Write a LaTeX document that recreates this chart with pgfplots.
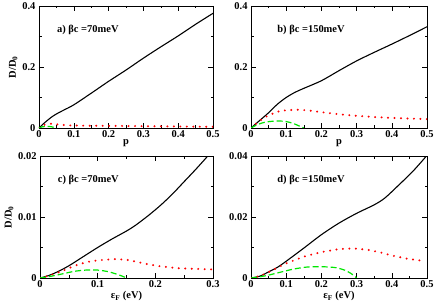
\documentclass[border=0pt]{standalone}
\usepackage{pgfplots}
\pgfplotsset{compat=1.18}
\usepackage{fontspec}
\setmainfont{Liberation Serif}
\definecolor{mygreen}{RGB}{0,230,0}
\pgfplotsset{
  every axis/.style={scale only axis, height=122bp,
    tick align=inside, xtick pos=both, ytick pos=both,
    minor tick num=1, major tick length=5bp, minor tick length=2.5bp,
    tick style={black, line width=0.6pt},
    axis line style={line width=0.6pt},
    tick label style={font=\fontsize{10.5}{11}\selectfont\bfseries},
    label style={font=\fontsize{10.5}{11}\selectfont\bfseries},
    xticklabel style={yshift=1bp},
    /pgf/number format/assume math mode=true,
    /pgf/number format/fixed,
    scaled ticks=false,
    clip=true},
  blk/.style={black, line width=1.1pt, smooth},
  rd/.style={red, line width=2.2pt, dash pattern=on 0pt off 6.5pt, line cap=round},
  gr/.style={mygreen, line width=1.2pt, dash pattern=on 6pt off 3pt, smooth},
}
\begin{document}
\begin{tikzpicture}
\useasboundingbox (0bp,0bp) rectangle (436bp,308bp);
% a
\begin{axis}[at={(39bp,180bp)}, anchor=south west, width=174bp,
  xmin=0, xmax=0.5, ymin=0, ymax=0.4, xtick={0,0.1,...,0.5}, ytick={0,0.2,0.4},
  xticklabels={0,0.1,0.2,0.3,0.4,0.5}, yticklabels={0,0.2,0.4},
  xlabel={p}, ylabel={D/D\textsubscript{0}}, xlabel style={yshift=5bp}, ylabel style={yshift=-2bp}]
\addplot[blk] coordinates {(0,0) (0.01,0.011) (0.02,0.021) (0.035,0.035) (0.05,0.046) (0.07,0.058) (0.1,0.076) (0.15,0.114) (0.2,0.153) (0.25,0.19) (0.3,0.229) (0.35,0.266) (0.4,0.302) (0.45,0.34) (0.5,0.376)};
\addplot[rd] coordinates {(0,0) (0.01,0.008) (0.02,0.012) (0.035,0.014) (0.05,0.012) (0.08,0.009) (0.1,0.008) (0.2,0.007) (0.3,0.006) (0.4,0.005) (0.5,0.004)};
\addplot[gr] coordinates {(0,0) (0.01,0.004) (0.02,0.005) (0.03,0.005) (0.04,0.003) (0.045,0.0)};
\node[anchor=west, font=\fontsize{10.5}{11}\selectfont\bfseries] at (axis cs:0.042,0.32) {a) βc =70meV};
\end{axis}
% b
\begin{axis}[at={(251bp,180bp)}, anchor=south west, width=176bp,
  xmin=0, xmax=0.5, ymin=0, ymax=0.4, xtick={0,0.1,...,0.5}, ytick={0,0.2,0.4},
  xticklabels={0,0.1,0.2,0.3,0.4,0.5}, yticklabels={0,0.2,0.4},
  xlabel={p}, xlabel style={yshift=5bp}]
\addplot[blk] coordinates {(0,0) (0.025,0.025) (0.05,0.05) (0.075,0.078) (0.1,0.1) (0.125,0.117) (0.15,0.13) (0.2,0.155) (0.25,0.188) (0.3,0.22) (0.35,0.248) (0.4,0.275) (0.45,0.303) (0.5,0.332)};
\addplot[rd] coordinates {(0,0) (0.02,0.02) (0.05,0.042) (0.08,0.055) (0.1,0.058) (0.13,0.06) (0.16,0.058) (0.2,0.052) (0.25,0.045) (0.3,0.04) (0.35,0.036) (0.4,0.033) (0.45,0.031) (0.5,0.029)};
\addplot[gr] coordinates {(0,0) (0.02,0.012) (0.04,0.019) (0.06,0.022) (0.08,0.023) (0.1,0.021) (0.12,0.015) (0.14,0.005) (0.15,0)};
\node[anchor=west, font=\fontsize{10.5}{11}\selectfont\bfseries] at (axis cs:0.065,0.32) {b) βc =150meV};
\end{axis}
% c
\begin{axis}[at={(40bp,30bp)}, anchor=south west, width=173bp,
  xmin=0, xmax=0.3, ymin=0, ymax=0.02, xtick={0,0.1,0.2,0.3}, ytick={0,0.01,0.02},
  xticklabels={0,0.1,0.2,0.3}, yticklabels={0,0.01,0.02},
  xlabel={ε\textsubscript{F} (eV)}, ylabel={D/D\textsubscript{0}}, xlabel style={yshift=3bp}, ylabel style={yshift=-2bp}]
\addplot[blk] coordinates {(0,0) (0.015,0.0004) (0.03,0.001) (0.05,0.002) (0.075,0.0035) (0.1,0.005) (0.125,0.0064) (0.15,0.0077) (0.165,0.0086) (0.175,0.0093) (0.19,0.0104) (0.21,0.012) (0.23,0.0138) (0.25,0.0158) (0.27,0.0178) (0.29,0.0199) (0.3,0.021)};
\addplot[rd] coordinates {(0,0) (0.02,0.0005) (0.04,0.0012) (0.06,0.002) (0.08,0.0026) (0.1,0.0029) (0.13,0.0031) (0.15,0.003) (0.17,0.0026) (0.19,0.0022) (0.21,0.0019) (0.24,0.0016) (0.27,0.0015) (0.3,0.0014)};
\addplot[gr] coordinates {(0,0) (0.02,0.0003) (0.04,0.0007) (0.06,0.0011) (0.08,0.0013) (0.1,0.0013) (0.12,0.001) (0.14,0.0004) (0.15,0)};
\node[anchor=west, font=\fontsize{10.5}{11}\selectfont\bfseries] at (axis cs:0.025,0.016) {c) βc =70meV};
\end{axis}
% d
\begin{axis}[at={(251bp,30bp)}, anchor=south west, width=176bp,
  xmin=0, xmax=0.5, ymin=0, ymax=0.04, xtick={0,0.1,...,0.5}, ytick={0,0.02,0.04},
  xticklabels={0,0.1,0.2,0.3,0.4,0.5}, yticklabels={0,0.02,0.04},
  xlabel={ε\textsubscript{F} (eV)}, xlabel style={yshift=3bp}]
\addplot[blk] coordinates {(0,0) (0.025,0.0006) (0.05,0.002) (0.075,0.0035) (0.1,0.0055) (0.15,0.0098) (0.2,0.0142) (0.25,0.018) (0.3,0.0212) (0.35,0.024) (0.38,0.0262) (0.42,0.0305) (0.46,0.035) (0.5,0.0402)};
\addplot[rd] coordinates {(0,0) (0.03,0.0008) (0.06,0.0025) (0.1,0.0048) (0.15,0.007) (0.2,0.0085) (0.25,0.0095) (0.29,0.0097) (0.33,0.0093) (0.37,0.0083) (0.41,0.0071) (0.45,0.0062) (0.49,0.0056)};
\addplot[gr] coordinates {(0,0) (0.04,0.0007) (0.08,0.0018) (0.12,0.0029) (0.16,0.0036) (0.2,0.0037) (0.24,0.0034) (0.27,0.0024) (0.29,0.001) (0.3,0)};
\node[anchor=west, font=\fontsize{10.5}{11}\selectfont\bfseries] at (axis cs:0.065,0.032) {d) βc =150meV};
\end{axis}
\end{tikzpicture}
\end{document}
